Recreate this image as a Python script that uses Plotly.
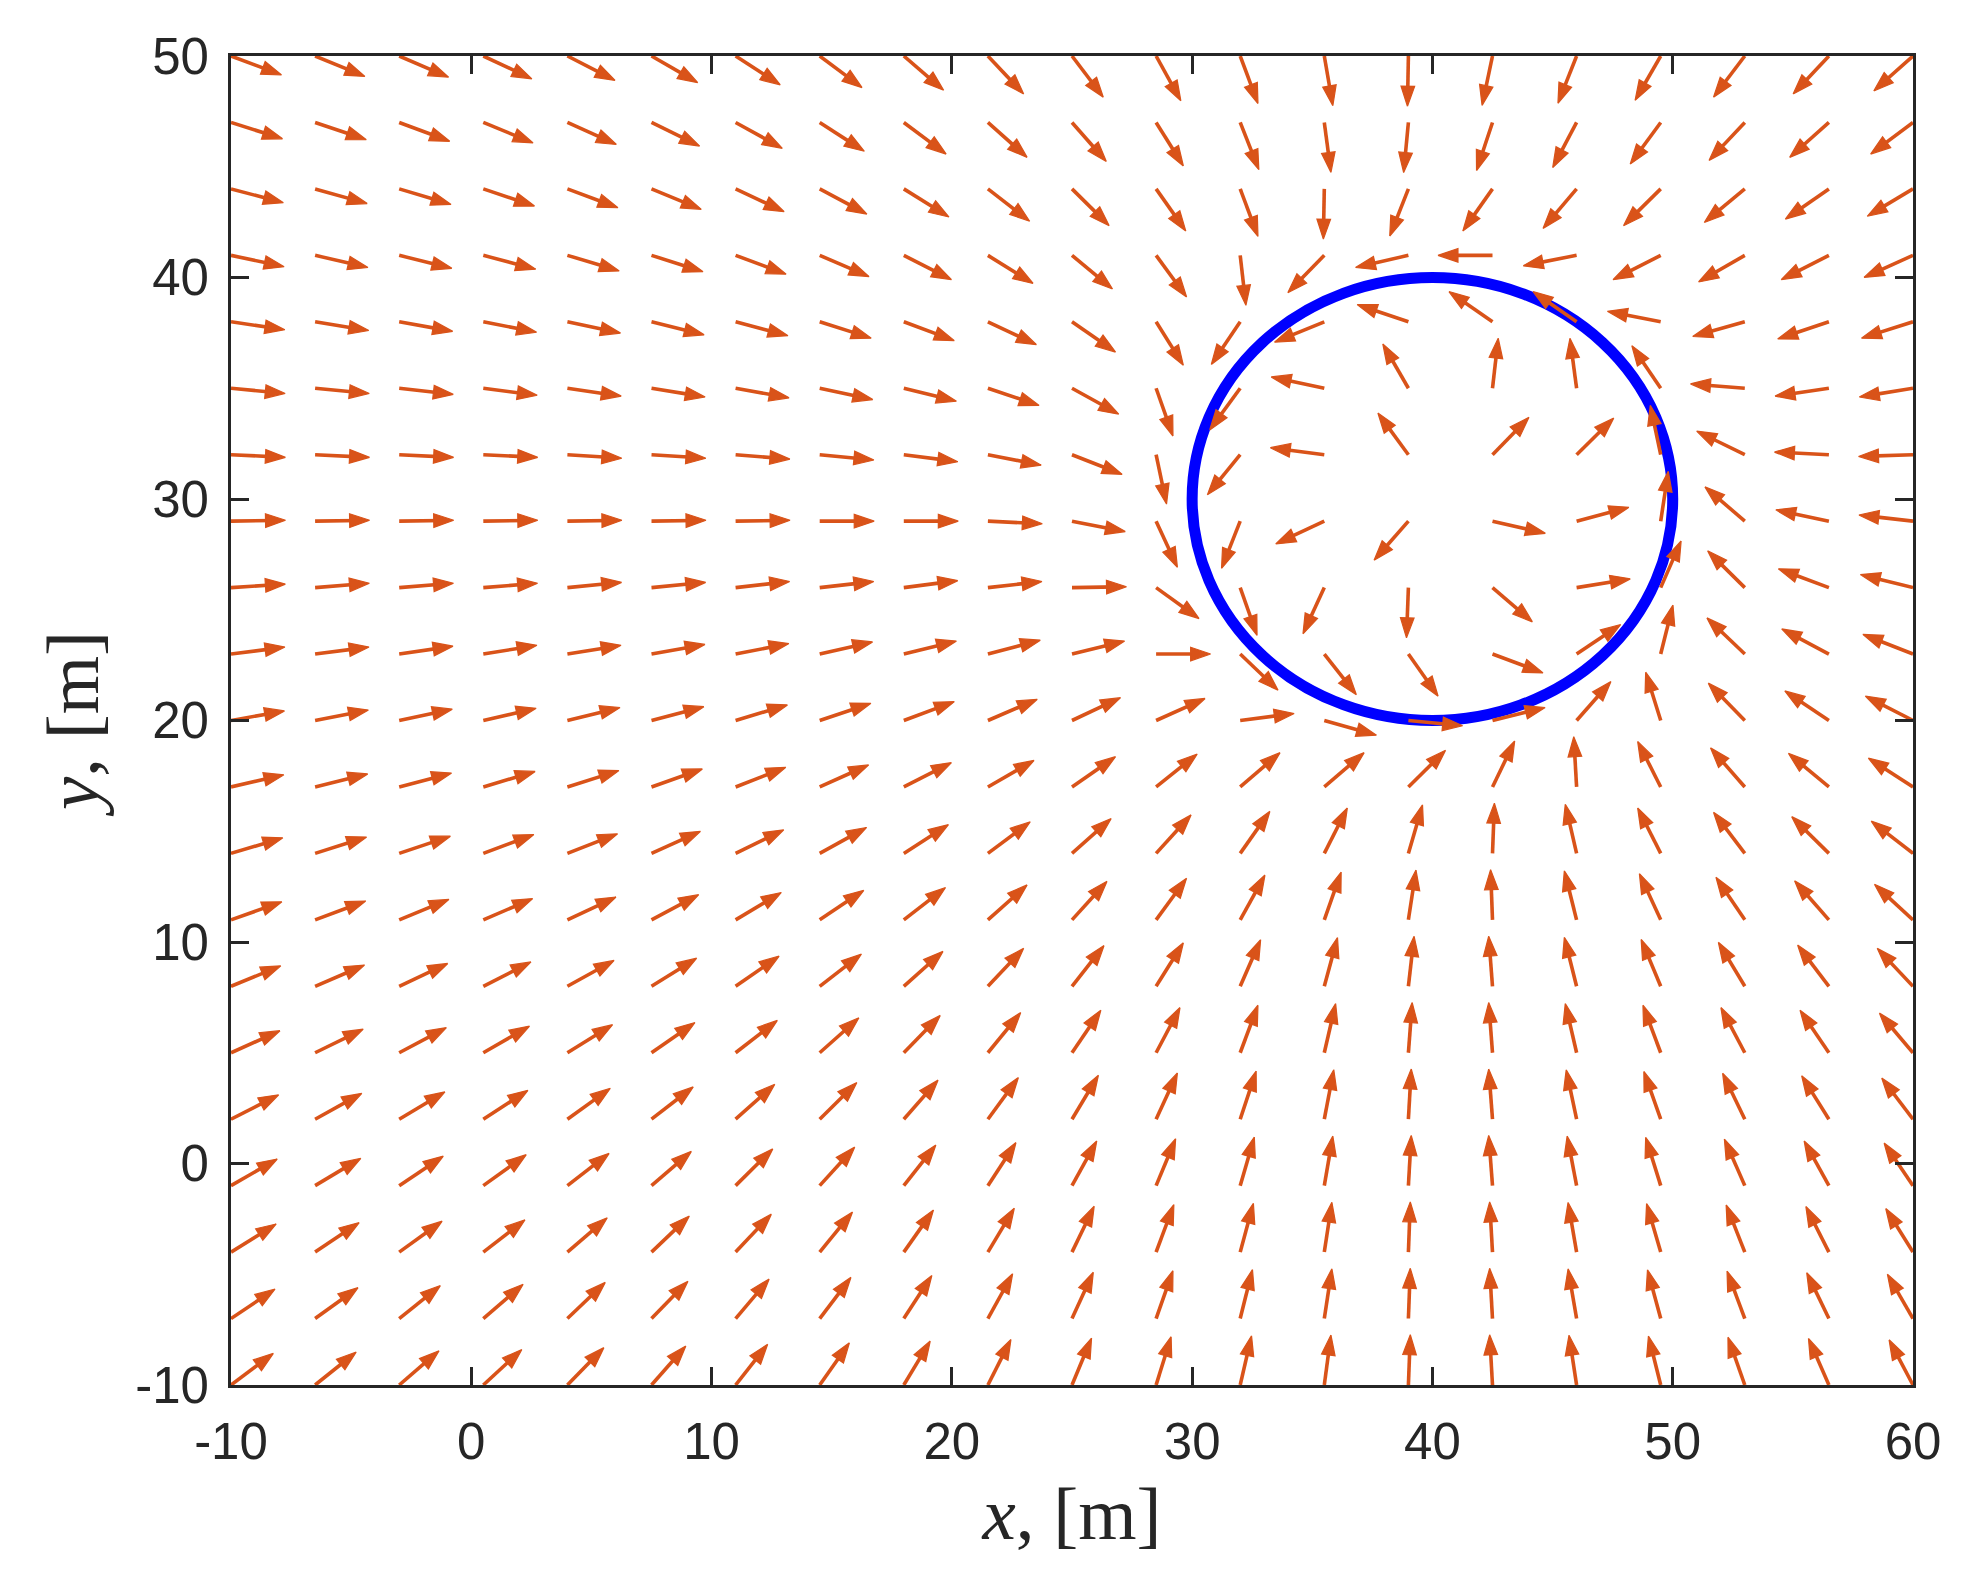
import numpy as np
import plotly.graph_objects as go

# Quiver grid: arrow tails, x every 3.5 m, y every 3 m (rows listed top to bottom)
x_grid = [-10, -6.5, -3, 0.5, 4, 7.5, 11, 14.5, 18, 21.5, 25,
          28.5, 32, 35.5, 39, 42.5, 46, 49.5, 53, 56.5, 60]
y_grid = [50, 47, 44, 41, 38, 35, 32, 29, 26, 23, 20,
          17, 14, 11, 8, 5, 2, -1, -4, -7, -10]

# Arrow heading in degrees (ccw from +x), one row per y_grid value, one column per x_grid value
heading_deg = [
    [-22, -24, -25, -27, -29, -32, -35, -39, -43, -49, -55, -63, -71, -81, -91, -101, -110, -118, -125, -131, -136],
    [-19, -20, -22, -24, -26, -28, -31, -35, -39, -44, -51, -60, -70, -83, -95, -107, -116, -124, -131, -136, -141],
    [-16, -17, -18, -20, -22, -24, -27, -30, -34, -40, -47, -57, -71, -91, -110, -123, -128, -133, -138, -143, -147],
    [-13, -14, -15, -16, -18, -19, -22, -25, -29, -34, -42, -56, -84, -132, -166, 180, -168, -151, -148, -151, -154],
    [-9, -10, -11, -12, -13, -15, -16, -19, -22, -27, -37, -60, -122, -156, 160, 143, 143, 168, -163, -160, -161],
    [-6, -6, -7, -8, -9, -10, -11, -13, -15, -20, -31, -72, -124, 167, 118, 84, 97, 122, 175, -171, -170],
    [-3, -3, -3, -3, -4, -4, -5, -6, -8, -12, -23, -79, -127, 172, 124, 48, 47, 101, 152, 177, -178],
    [1, 1, 1, 1, 1, 1, 1, 0, 0, -3, -12, -67, -110, -153, -129, -14, 16, 82, 137, 167, 173],
    [4, 5, 5, 5, 6, 6, 7, 7, 8, 7, 1, -38, -72, -113, -92, -43, 10, 68, 133, 158, 165],
    [8, 8, 9, 10, 10, 11, 12, 14, 15, 16, 15, 0, -46, -54, -57, -22, 36, 77, 134, 150, 157],
    [11, 12, 13, 14, 15, 16, 18, 20, 22, 25, 27, 26, 8, -17, -6, 15, 51, 106, 132, 144, 151],
    [14, 15, 16, 18, 19, 21, 23, 26, 29, 32, 37, 41, 43, 43, 47, 66, 93, 115, 129, 138, 145],
    [18, 19, 20, 22, 23, 26, 28, 31, 35, 39, 44, 50, 57, 65, 75, 88, 102, 115, 125, 133, 140],
    [21, 22, 24, 25, 27, 30, 33, 36, 40, 44, 50, 56, 63, 72, 82, 92, 103, 113, 122, 129, 135],
    [24, 25, 27, 29, 31, 34, 37, 40, 44, 49, 54, 60, 68, 76, 84, 94, 103, 111, 119, 125, 131],
    [26, 28, 30, 32, 34, 37, 40, 44, 48, 53, 58, 64, 71, 78, 86, 94, 102, 109, 116, 122, 128],
    [29, 31, 33, 35, 38, 40, 44, 47, 51, 56, 61, 67, 73, 80, 87, 94, 101, 108, 114, 120, 125],
    [32, 33, 36, 38, 40, 43, 47, 50, 54, 59, 63, 69, 75, 81, 87, 94, 100, 106, 112, 117, 122],
    [34, 36, 38, 40, 43, 46, 49, 53, 57, 61, 66, 71, 76, 82, 88, 93, 99, 105, 110, 115, 120],
    [36, 38, 41, 43, 46, 48, 52, 55, 59, 63, 67, 72, 77, 82, 88, 93, 99, 104, 109, 114, 118],
    [39, 41, 43, 45, 48, 51, 54, 57, 61, 65, 69, 74, 78, 83, 88, 93, 98, 103, 108, 112, 116],
]

# Loiter circle
orbit_x = 40
orbit_y = 30
orbit_r = 10

x_ticks = [-10, 0, 10, 20, 30, 40, 50, 60]
x_tick_text = ["-10", "0", "10", "20", "30", "40", "50", "60"]
y_ticks = [-10, 0, 10, 20, 30, 40, 50]
y_tick_text = ["-10", "0", "10", "20", "30", "40", "50"]

ARROW_COLOR = "#D95319"
AXIS_COLOR = "#262626"
WIDTH, HEIGHT = 1964, 1578
# page body adds 8px on the top/left, margins account for it
MARGIN = dict(l=223, r=59, t=48, b=201)
ARROW_LEN = 2.27  # data units (quiver autoscale)
HEAD_LEN = 20  # px
HEAD_HALF = 6.8  # px

# px per data unit, so heads keep their shape on the unequal axes
sx = (WIDTH - MARGIN["l"] - MARGIN["r"]) / (x_ticks[-1] - x_ticks[0])
sy = (HEIGHT - MARGIN["t"] - MARGIN["b"]) / (y_ticks[-1] - y_ticks[0])

shaft_x, shaft_y, head_x, head_y = [], [], [], []
for y0, row in zip(y_grid, heading_deg):
    for x0, ang in zip(x_grid, row):
        t = np.radians(ang)
        x1 = x0 + ARROW_LEN * np.cos(t)
        y1 = y0 + ARROW_LEN * np.sin(t)
        px, py = np.cos(t) * sx, np.sin(t) * sy
        n = np.hypot(px, py)
        ux, uy = px / n, py / n
        bx = x1 - ux * HEAD_LEN / sx
        by = y1 - uy * HEAD_LEN / sy
        ox, oy = -uy * HEAD_HALF / sx, ux * HEAD_HALF / sy

        shaft_x += [x0, (bx + x1) / 2, None]
        shaft_y += [y0, (by + y1) / 2, None]
        head_x += [x1, bx + ox, bx - ox, x1, None]
        head_y += [y1, by + oy, by - oy, y1, None]

fig = go.Figure()
fig.add_trace(
    go.Scatter(
        x=shaft_x, y=shaft_y, mode="lines",
        line=dict(color=ARROW_COLOR, width=3.6),
        hoverinfo="skip", showlegend=False,
    )
)
fig.add_trace(
    go.Scatter(
        x=head_x, y=head_y, mode="lines", fill="toself",
        fillcolor=ARROW_COLOR, line=dict(color=ARROW_COLOR, width=1.2),
        hoverinfo="skip", showlegend=False,
    )
)

fig.add_shape(
    type="circle", xref="x", yref="y",
    x0=orbit_x - orbit_r, x1=orbit_x + orbit_r,
    y0=orbit_y - orbit_r, y1=orbit_y + orbit_r,
    line=dict(color="#0000FF", width=11),
    layer="below",
)

axis_common = dict(
    showgrid=False,
    zeroline=False,
    showline=True,
    linecolor=AXIS_COLOR,
    linewidth=2.7,
    mirror="allticks",
    ticks="inside",
    ticklen=18,
    tickwidth=2.7,
    tickcolor=AXIS_COLOR,
    tickfont=dict(family="Liberation Sans, Arial, sans-serif", size=51, color=AXIS_COLOR),
)
title_font = dict(family="Liberation Serif, Times New Roman, serif", size=75, color=AXIS_COLOR)

fig.update_layout(
    width=WIDTH,
    height=HEIGHT,
    margin=MARGIN,
    paper_bgcolor="white",
    plot_bgcolor="white",
    xaxis=dict(
        range=[x_ticks[0], x_ticks[-1]],
        tickvals=x_ticks,
        ticktext=x_tick_text,
        ticklabelstandoff=10,
        title=dict(text="<i>x</i>, [m]", font=title_font, standoff=18),
        automargin=False,
        **axis_common,
    ),
    yaxis=dict(
        range=[y_ticks[0], y_ticks[-1]],
        tickvals=y_ticks,
        ticktext=y_tick_text,
        ticklabelstandoff=9,
        title=dict(text="<i>y</i>, [m]", font=title_font, standoff=12),
        automargin=False,
        **axis_common,
    ),
)

fig.write_html("out.html")
